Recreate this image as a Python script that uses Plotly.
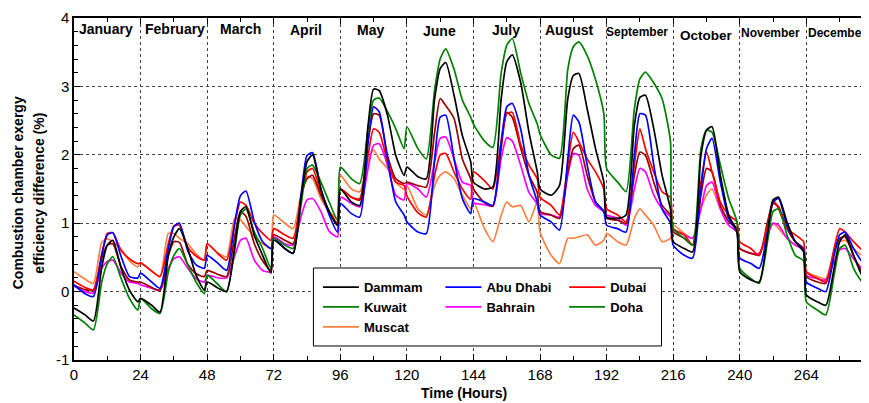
import plotly.graph_objects as go

# ---------------- data ----------------
MONTHS = ["January", "February", "March", "April", "May", "June", "July",
          "August", "September", "October", "November", "December"]
MONTH_LABEL_HOUR = [11.5, 36.3, 60, 83.8, 107, 131.6, 155.7, 178.7, 203, 228, 251, 275]
HOURS_OF_DAY = [0, 4, 7, 10, 12, 14, 17, 20, 23]   # sampled hours of each representative day
X_TICKS = [0, 24, 48, 72, 96, 120, 144, 168, 192, 216, 240, 264]
Y_TICKS = [-1, 0, 1, 2, 3, 4]
Y_TICK_TEXT = ["-1", "0", "1", "2", "3", "4"]

dammam = [
    -0.24, -0.34, -0.43, 0.36, 0.68, 0.75, 0.34, 0.02, -0.15,
    -0.10, -0.20, -0.30, 0.53, 0.80, 0.92, 0.63, 0.24, 0.02,
    0.14, 0.05, 0.00, 0.68, 1.17, 1.24, 0.82, 0.53, 0.27,
    0.75, 0.63, 0.56, 1.41, 1.90, 2.00, 1.50, 1.17, 0.97,
    1.50, 1.31, 1.26, 2.43, 2.96, 2.94, 2.58, 1.99, 1.70,
    1.82, 1.68, 1.65, 2.82, 3.26, 3.35, 2.87, 2.28, 1.90,
    1.60, 1.50, 1.53, 2.82, 3.36, 3.46, 3.06, 2.33, 1.75,
    1.50, 1.41, 1.55, 2.82, 3.16, 3.19, 2.67, 2.09, 1.60,
    1.09, 1.07, 1.12, 2.43, 2.84, 2.87, 2.38, 1.70, 1.21,
    0.73, 0.63, 0.58, 1.99, 2.36, 2.41, 1.70, 1.12, 0.87,
    0.29, 0.17, 0.14, 0.83, 1.34, 1.38, 1.02, 0.73, 0.58,
    -0.05, -0.15, -0.20, 0.34, 0.73, 0.83, 0.53, 0.24, 0.10,
]
kuwait = [
    -0.34, -0.46, -0.56, 0.14, 0.41, 0.51, 0.19, -0.10, -0.27,
    -0.10, -0.25, -0.32, 0.29, 0.53, 0.63, 0.39, 0.14, -0.03,
    0.24, 0.10, 0.00, 0.63, 1.12, 1.21, 0.87, 0.63, 0.34,
    0.78, 0.68, 0.63, 1.31, 1.80, 1.85, 1.60, 1.31, 1.04,
    1.82, 1.65, 1.58, 2.38, 2.80, 2.83, 2.63, 2.38, 2.09,
    2.41, 2.09, 1.94, 2.95, 3.40, 3.55, 3.25, 2.80, 2.55,
    2.45, 2.20, 2.11, 3.20, 3.60, 3.70, 3.20, 2.75, 2.45,
    2.30, 2.00, 1.95, 3.25, 3.58, 3.65, 3.45, 3.10, 2.60,
    1.80, 1.60, 1.46, 2.67, 3.11, 3.21, 3.05, 2.82, 2.20,
    0.92, 0.78, 0.68, 2.09, 2.36, 2.33, 1.85, 1.36, 1.02,
    0.34, 0.19, 0.12, 0.73, 1.17, 1.21, 0.83, 0.53, 0.45,
    -0.15, -0.27, -0.34, 0.24, 0.63, 0.68, 0.34, 0.14, 0.00,
]
muscat = [
    0.29, 0.18, 0.12, 0.72, 0.77, 0.73, 0.62, 0.45, 0.36,
    0.42, 0.30, 0.22, 0.85, 0.85, 0.78, 0.70, 0.55, 0.46,
    0.70, 0.56, 0.51, 1.08, 1.05, 0.95, 0.80, 0.70, 0.63,
    1.12, 1.00, 0.92, 1.46, 1.68, 1.65, 1.36, 1.17, 1.07,
    1.70, 1.50, 1.46, 1.90, 2.07, 1.94, 1.80, 1.60, 1.50,
    1.55, 1.21, 1.12, 1.55, 1.70, 1.75, 1.65, 1.41, 1.21,
    1.31, 0.92, 0.73, 1.12, 1.31, 1.24, 1.26, 1.02, 1.31,
    0.87, 0.53, 0.41, 0.78, 0.78, 0.80, 0.83, 0.68, 0.75,
    0.85, 0.73, 0.68, 1.07, 1.21, 1.12, 0.97, 0.73, 0.78,
    0.97, 0.85, 0.78, 1.21, 1.41, 1.50, 1.21, 1.07, 0.92,
    0.63, 0.56, 0.56, 0.87, 1.00, 0.92, 0.78, 0.68, 0.61,
    0.29, 0.22, 0.19, 0.58, 0.73, 0.75, 0.63, 0.53, 0.45,
]
abu_dhabi = [
    0.10, -0.03, -0.07, 0.53, 0.83, 0.86, 0.51, 0.22, 0.20,
    0.27, 0.14, 0.05, 0.63, 0.95, 1.00, 0.60, 0.39, 0.34,
    0.53, 0.41, 0.31, 1.02, 1.40, 1.47, 1.02, 0.73, 0.63,
    0.78, 0.63, 0.56, 1.46, 1.99, 2.03, 1.50, 1.12, 0.87,
    1.29, 1.14, 1.09, 2.19, 2.70, 2.63, 1.94, 1.31, 1.12,
    1.02, 0.87, 0.85, 1.94, 2.55, 2.58, 1.94, 1.36, 1.14,
    1.36, 1.31, 1.26, 2.19, 2.70, 2.75, 2.38, 1.70, 1.31,
    1.12, 1.02, 0.90, 1.94, 2.58, 2.48, 1.85, 1.31, 1.17,
    0.97, 0.92, 0.87, 1.99, 2.60, 2.58, 1.85, 1.21, 1.00,
    0.68, 0.53, 0.49, 1.50, 2.09, 2.24, 1.60, 1.07, 0.87,
    0.49, 0.41, 0.34, 0.87, 1.31, 1.36, 0.97, 0.73, 0.61,
    0.14, 0.05, 0.00, 0.53, 0.83, 0.87, 0.63, 0.44, 0.30,
]
bahrain = [
    0.08, 0.00, -0.02, 0.34, 0.44, 0.46, 0.27, 0.14, 0.12,
    0.10, 0.05, 0.02, 0.34, 0.48, 0.51, 0.34, 0.19, 0.14,
    0.24, 0.20, 0.20, 0.53, 0.75, 0.78, 0.46, 0.31, 0.29,
    0.80, 0.70, 0.68, 1.12, 1.34, 1.36, 1.17, 0.88, 0.80,
    1.38, 1.29, 1.24, 1.80, 2.14, 2.16, 1.85, 1.41, 1.34,
    1.58, 1.50, 1.38, 1.90, 2.24, 2.26, 1.94, 1.60, 1.55,
    1.30, 1.27, 1.25, 1.95, 2.25, 2.20, 1.85, 1.45, 1.28,
    1.14, 1.12, 1.09, 1.70, 2.02, 1.99, 1.50, 1.26, 1.17,
    1.12, 1.07, 0.97, 1.50, 1.80, 1.75, 1.41, 1.21, 1.09,
    0.92, 0.83, 0.78, 1.21, 1.55, 1.60, 1.21, 0.97, 0.87,
    0.63, 0.56, 0.56, 0.82, 1.00, 0.97, 0.78, 0.68, 0.61,
    0.24, 0.19, 0.17, 0.44, 0.61, 0.63, 0.48, 0.34, 0.28,
]
dubai = [
    0.15, 0.06, 0.03, 0.55, 0.85, 0.86, 0.60, 0.48, 0.41,
    0.42, 0.30, 0.22, 0.70, 0.96, 0.97, 0.65, 0.52, 0.46,
    0.70, 0.55, 0.46, 1.00, 1.31, 1.26, 1.00, 0.85, 0.75,
    0.92, 0.83, 0.78, 1.41, 1.75, 1.80, 1.46, 1.17, 1.00,
    1.50, 1.38, 1.36, 1.99, 2.38, 2.33, 1.90, 1.60, 1.55,
    1.40, 1.15, 1.09, 1.70, 2.00, 2.02, 1.75, 1.50, 1.35,
    1.75, 1.62, 1.50, 2.20, 2.60, 2.62, 2.15, 1.85, 1.65,
    1.38, 1.26, 1.12, 1.85, 2.33, 2.19, 1.94, 1.75, 1.50,
    1.21, 1.12, 1.02, 1.85, 2.38, 2.09, 1.75, 1.46, 1.38,
    0.92, 0.83, 0.68, 1.60, 2.04, 1.75, 1.31, 1.12, 1.02,
    0.73, 0.63, 0.53, 0.97, 1.34, 1.21, 0.92, 0.83, 0.73,
    0.29, 0.19, 0.14, 0.63, 0.92, 0.87, 0.73, 0.61, 0.50,
]
doha = [
    0.09, 0.03, 0.02, 0.48, 0.68, 0.70, 0.36, 0.17, 0.14,
    0.14, 0.06, 0.02, 0.53, 0.73, 0.72, 0.40, 0.26, 0.22,
    0.31, 0.25, 0.22, 0.82, 1.17, 1.10, 0.70, 0.45, 0.31,
    0.83, 0.75, 0.70, 1.41, 1.65, 1.70, 1.41, 1.17, 0.97,
    1.50, 1.38, 1.34, 2.19, 2.60, 2.58, 1.99, 1.65, 1.58,
    1.60, 1.55, 1.53, 2.33, 2.82, 2.72, 2.53, 1.94, 1.65,
    1.50, 1.30, 1.25, 2.10, 2.62, 2.55, 2.10, 1.70, 1.45,
    1.17, 1.12, 1.07, 1.75, 2.09, 2.14, 1.70, 1.31, 1.17,
    1.07, 1.04, 1.00, 1.70, 2.04, 1.99, 1.60, 1.26, 1.12,
    0.87, 0.78, 0.68, 1.41, 1.80, 1.75, 1.26, 1.02, 0.92,
    0.63, 0.56, 0.53, 1.02, 1.29, 1.24, 0.92, 0.73, 0.63,
    0.22, 0.14, 0.12, 0.58, 0.78, 0.80, 0.53, 0.29, 0.20,
]

# hour-of-year axis built from month index and sampled hour of day
hours = [m * 24 + h for m in range(len(MONTHS)) for h in HOURS_OF_DAY]

FONT = "Liberation Sans, Arial, sans-serif"

# (name, values, line colour, legend, legend colour)
SERIES = [
    ("Muscat", muscat, "#FF8040", "legend", None),
    ("Bahrain", bahrain, "#FF00FF", "legend2", None),
    ("Doha", doha, "#9A0000", "legend3", "#008000"),
    ("Dubai", dubai, "#FF0000", "legend3", None),
    ("Abu Dhabi", abu_dhabi, "#0000FF", "legend2", None),
    ("Kuwait", kuwait, "#008000", "legend", None),
    ("Dammam", dammam, "#000000", "legend", None),
]
LEGEND_ORDER = {"Dammam": 1, "Kuwait": 2, "Muscat": 3, "Abu Dhabi": 1,
                "Bahrain": 2, "Dubai": 1, "Doha": 2}

LINE = dict(width=1.7, shape="spline", smoothing=0.6)

fig = go.Figure()
for name, vals, col, leg, legcol in SERIES:
    if legcol is None:
        fig.add_trace(go.Scatter(x=hours, y=vals, mode="lines", name=name,
                                 line=dict(color=col, **LINE), legend=leg,
                                 legendrank=LEGEND_ORDER[name]))
    else:
        fig.add_trace(go.Scatter(x=hours, y=vals, mode="lines", name=name,
                                 line=dict(color=col, **LINE), showlegend=False))
        fig.add_trace(go.Scatter(x=[None], y=[None], mode="lines", name=name,
                                 line=dict(color=legcol, width=1.7), legend=leg,
                                 legendrank=LEGEND_ORDER[name]))

axis_common = dict(showline=True, linecolor="black", linewidth=1.5, mirror="allticks",
                   ticks="inside", ticklen=6, tickcolor="black", tickwidth=1,
                   showgrid=True, gridcolor="#444444", gridwidth=1, griddash="dot",
                   zeroline=False, tickfont=dict(family=FONT, size=15, color="black"))

fig.update_xaxes(range=[0, 285.5], tickvals=X_TICKS,
                 minor=dict(dtick=12, tick0=0, ticks="inside", ticklen=4, tickcolor="black",
                            showgrid=False),
                 **axis_common)
fig.update_yaxes(range=[-1, 4], tickvals=Y_TICKS, ticktext=Y_TICK_TEXT,
                 minor=dict(dtick=0.2, tick0=0, ticks="inside", ticklen=4, tickcolor="black",
                            showgrid=False),
                 **axis_common)

# month labels
MONTH_SIZE = [14, 14, 14, 14, 14, 14, 14, 14, 12, 13.5, 12, 12]
MONTH_Y = [0.968, 0.968, 0.968, 0.965, 0.965, 0.962, 0.965, 0.965, 0.960, 0.950, 0.957, 0.957]
for i, m in enumerate(MONTHS):
    fig.add_annotation(x=MONTH_LABEL_HOUR[i], y=MONTH_Y[i], xref="x", yref="paper", text=m,
                       showarrow=False, xanchor="center", yanchor="middle",
                       font=dict(family=FONT, size=MONTH_SIZE[i], color="black", weight="bold"))

# axis titles
fig.add_annotation(x=-0.0705, y=0.488, xref="paper", yref="paper",
                   text="Combustion chamber exergy", textangle=-90, showarrow=False,
                   xanchor="center", yanchor="middle",
                   font=dict(family=FONT, size=14, color="black", weight="bold"))
fig.add_annotation(x=-0.0435, y=0.488, xref="paper", yref="paper",
                   text="efficiency difference (%)", textangle=-90, showarrow=False,
                   xanchor="center", yanchor="middle",
                   font=dict(family=FONT, size=14, color="black", weight="bold"))
fig.add_annotation(x=0.4918, y=-0.0956, xref="paper", yref="paper",
                   text="Time (Hours)", showarrow=False, xanchor="center", yanchor="middle",
                   font=dict(family=FONT, size=14, color="black", weight="bold"))

# legend box
fig.add_shape(type="rect", xref="paper", yref="paper", x0=0.3023, x1=0.7418,
              y0=0.041, y1=0.269, line=dict(color="black", width=1),
              fillcolor="white", layer="above")

leg_common = dict(bgcolor="rgba(0,0,0,0)", borderwidth=0, orientation="v",
                  xanchor="left", yanchor="top", itemwidth=36, tracegroupgap=0,
                  font=dict(family=FONT, size=13, color="black", weight="bold"))

# the page body has an 8px margin, so the figure is sized/margined to keep the
# plot area at the reference position inside the 869x403 window
fig.update_layout(
    width=861, height=395,
    margin=dict(l=66, r=1, t=10, b=43),
    paper_bgcolor="white", plot_bgcolor="white",
    legend=dict(x=0.308, y=0.257, **leg_common),
    legend2=dict(x=0.4627, y=0.257, **leg_common),
    legend3=dict(x=0.6189, y=0.257, **leg_common),
)

fig.write_html("out.html")
